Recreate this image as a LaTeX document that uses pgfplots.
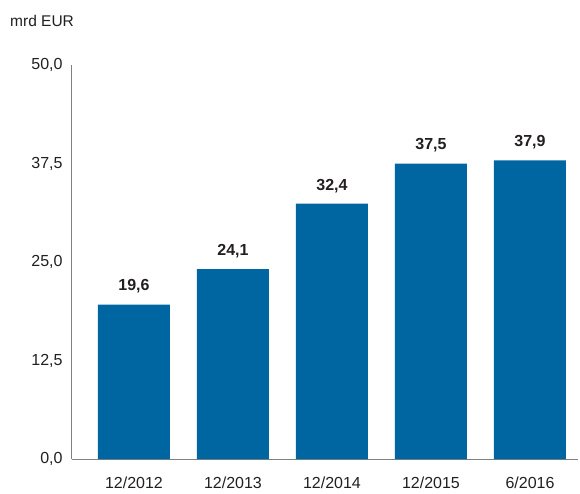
\documentclass[border=0pt]{standalone}
\usepackage{pgfplots}
\pgfplotsset{compat=1.18}
\usepackage{fontspec}
\setmainfont{Liberation Sans}
\definecolor{barblue}{RGB}{0,102,161}
\definecolor{axgray}{RGB}{128,128,128}
\definecolor{txt}{RGB}{35,31,32}
\begin{document}
\begin{tikzpicture}
\begin{axis}[
  scale only axis,
  width=506pt, height=394pt,
  xmin=-0.626, xmax=4.485,
  ymin=0, ymax=50,
  axis lines=left,
  axis line style={-, axgray, line width=1pt},
  major tick length=0pt,
  ytick={0,12.5,25,37.5,50},
  xtick={0,1,2,3,4},
  xticklabels={12/2012,12/2013,12/2014,12/2015,6/2016},
  /pgf/number format/assume math mode=true,
  ticklabel style={font=\fontsize{16}{19}\selectfont, text=txt, inner sep=0pt},
  yticklabel style={anchor=east, xshift=-9.3pt, /pgf/number format/.cd, fixed, fixed zerofill, precision=1, use comma},
  xticklabel style={anchor=north, yshift=-18pt},
  clip=false,
  nodes near coords,
  nodes near coords style={font=\fontsize{16}{19}\selectfont\bfseries, text=txt, inner sep=0pt, anchor=south, yshift=11pt,
    /pgf/number format/.cd, fixed, fixed zerofill, precision=1, use comma, assume math mode=true},
]
\addplot[ybar, bar width=72pt, fill=barblue, draw=none] coordinates {(0,19.6) (1,24.1) (2,32.4) (3,37.5) (4,37.9)};
\coordinate (o) at (rel axis cs:0,0);
\node[anchor=base west, xshift=-62pt, yshift=38pt, font=\fontsize{15.5}{18}\selectfont, text=txt, inner sep=0pt] at (rel axis cs:0,1) {mrd EUR};
\end{axis}
\pgfresetboundingbox
\path[use as bounding box] ([shift={(-72pt,-34pt)}]o) rectangle ([shift={(508pt,459pt)}]o);
\end{tikzpicture}
\end{document}
